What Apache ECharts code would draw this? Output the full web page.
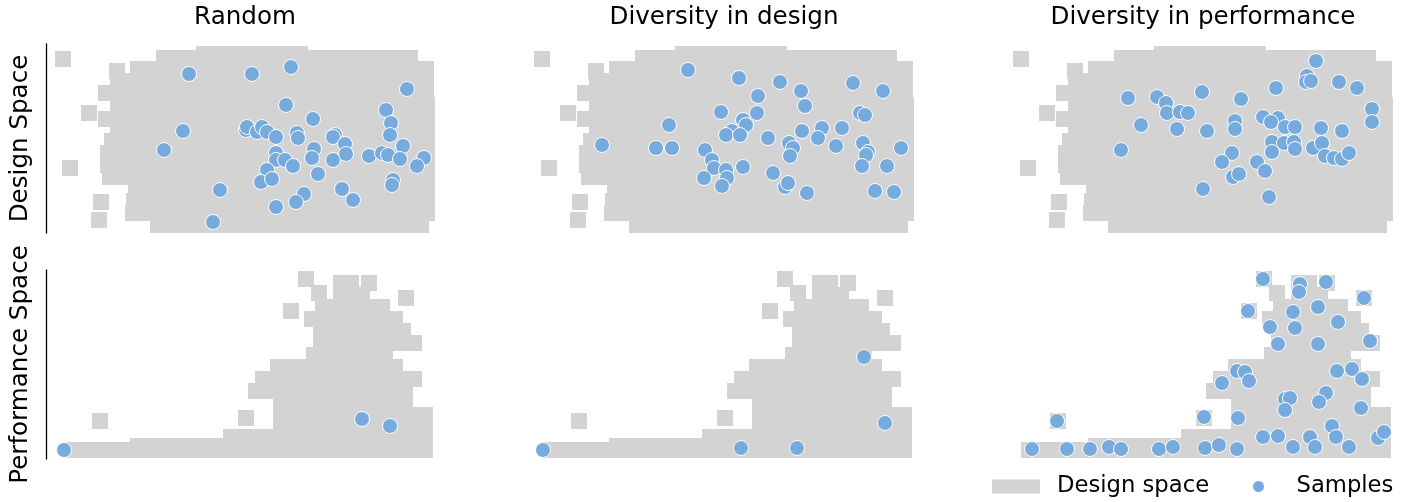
<!DOCTYPE html>
<html><head><meta charset="utf-8">
<script src="https://cdn.jsdelivr.net/npm/echarts@6/dist/echarts.min.js"></script>
<style>html,body{margin:0;padding:0;background:#fff}#c{width:1411px;height:502px}</style>
</head><body><div id="c"></div>
<script>
// ---- labels ----
const columnTitles = ['Random', 'Diversity in design', 'Diversity in performance'];
const rowTitles = ['Design Space', 'Performance Space'];
const legendNames = ['Design space', 'Samples'];

// ---- gray design-space cloud (rows of points: [y, [x...]]) ----
const designSpaceRows = [
  [179, [158,170,182,194,206,218,230,242,254]],
  [175, [118,130,142,154,166,178,190,202,214,226,238,250,262,274,286,298,310,322,334,346,358,364]],
  [164, [92,104,116,128,140,152,164,176,188,200,212,224,236,248,260,272,284,296,308,320,332,344,356,368,380]],
  [152, [72,84,96,108,120,132,144,156,168,180,192,204,216,228,240,252,264,276,288,300,312,324,336,348,360,372,380]],
  [140, [60,72,84,96,108,120,132,144,156,168,180,192,204,216,228,240,252,264,276,288,300,312,324,336,348,360,372,380]],
  [128, [72,84,96,108,120,132,144,156,168,180,192,204,216,228,240,252,264,276,288,300,312,324,336,348,360,372,381]],
  [116, [72,84,96,108,120,132,144,156,168,180,192,204,216,228,240,252,264,276,288,300,312,324,336,348,360,372,381]],
  [104, [72,84,96,108,120,132,144,156,168,180,192,204,216,228,240,252,264,276,288,300,312,324,336,348,360,372,381]],
  [92,  [66,72,84,96,108,120,132,144,156,168,180,192,204,216,228,240,252,264,276,288,300,312,324,336,348,360,372,381]],
  [80,  [62,72,84,96,108,120,132,144,156,168,180,192,204,216,228,240,252,264,276,288,300,312,324,336,348,360,372,381]],
  [68,  [62,72,84,96,108,120,132,144,156,168,180,192,204,216,228,240,252,264,276,288,300,312,324,336,348,360,372,381]],
  [56,  [64,72,84,96,108,120,132,144,156,168,180,192,204,216,228,240,252,264,276,288,300,312,324,336,348,360,372,381]],
  [44,  [90,96,108,120,132,144,156,168,180,192,204,216,228,240,252,264,276,288,300,312,324,336,348,360,372,381]],
  [32,  [88,96,108,120,132,144,156,168,180,192,204,216,228,240,252,264,276,288,300,312,324,336,348,360,372,381]],
  [20,  [87,96,108,120,132,144,156,168,180,192,204,216,228,240,252,264,276,288,300,312,324,336,348,360,372,381]],
  [8,   [112,120,132,144,156,168,180,192,204,216,228,240,252,264,276,288,300,312,324,336,348,360,372,375]]
];
const designSpaceOutliers = [[17,174],[71,162],[43,120],[60,114],[24,65],[55,31],[53,13]];

// ---- gray performance-space cloud ----
const performanceSpaceRows = [
  [9,   [25,37,49,61,73,85,97,109,121,133,145,157,169,181,193,205,217,229,241,253,265,277,289,301,313,325,337,349,361,373,379]],
  [13,  [92,104,116,128,140,152,164,176]],
  [22,  [185,197,209,221,233,245,257,269,281,293,305,317,329,341,353,365,377,379]],
  [34,  [235,247,259,271,283,295,307,319,331,343,355,367,379]],
  [44,  [235,247,259,271,283,295,307,319,331,343,355,367,379]],
  [56,  [235,247,259,271,283,295,307,319,331,343,355,359]],
  [68,  [210,222,234,246,258,270,282,294,306,318,330,342,354,359]],
  [80,  [217,229,241,253,265,277,289,301,313,325,337,349,361,368]],
  [92,  [232,244,256,268,280,292,304,316,328,340,349]],
  [104, [268,280,292,304,316,328,339]],
  [116, [275,287,299,311,323,335,347,359,368]],
  [128, [275,287,299,311,323,335,347,357]],
  [140, [266,278,290,302,314,326,338,349]],
  [152, [277,289,301,313,325,336]],
  [164, [295,307,316]],
  [176, [295,305,323]]
];
const performanceSpaceOutliers = [[54,38],[200,41],[245,148],[273,166],[360,161],[260,180]];

// ---- samples (blue) ----
const randomDesign = [[143,159],[206,159],[245,166],[361,144],[240,128],[340,123],[267,114],[345,110],[137,102],
  [200,103],[201,106],[211,101],[216,106],[221,101],[118,83],[230,96],[251,100],[252,95],[289,98],[287,96],[299,89],
  [344,98],[357,87],[268,84],[266,75],[230,80],[230,73],[239,73],[247,67],[287,73],[300,79],[323,77],[336,80],[342,78],
  [354,74],[378,75],[371,67],[221,63],[215,51],[226,54],[272,59],[174,43],[347,53],[346,48],[296,44],[307,33],[258,39],
  [250,31],[230,26],[167,11]];
const randomPerformance = [[18,9],[316,40],[344,33]];

const diverseDesignDesign = [[163,163],[214,155],[255,151],[328,150],[233,137],[276,142],[358,142],[280,127],[196,121],
  [232,120],[335,120],[340,118],[218,113],[221,108],[144,108],[207,102],[201,98],[215,98],[297,105],[317,105],[277,102],
  [243,95],[293,95],[77,88],[131,85],[147,85],[180,83],[264,90],[268,85],[265,77],[311,87],[338,90],[343,81],[341,78],
  [376,85],[187,73],[189,65],[201,63],[202,55],[218,66],[337,67],[362,67],[179,55],[197,47],[248,60],[260,46],[263,50],
  [282,40],[350,42],[369,41]];
const diverseDesignPerformance = [[18,9],[216,11],[272,11],[339,102],[360,36]];

const diversePerfDesign = [[312,172],[303,157],[302,151],[307,152],[335,151],[353,145],[272,145],[198,141],[237,134],
  [124,135],[153,136],[162,130],[163,120],[176,121],[184,120],[368,124],[368,111],[231,112],[231,104],[259,116],[274,115],
  [267,111],[281,106],[291,106],[317,105],[338,102],[137,108],[173,104],[203,102],[268,91],[268,81],[280,90],[290,91],
  [291,84],[309,85],[318,90],[321,77],[330,75],[338,74],[345,80],[117,83],[228,80],[218,71],[253,71],[261,62],[229,56],
  [235,59],[199,44],[265,36]];
const diversePerfPerformance = [[259,180],[296,175],[295,167],[322,177],[360,161],[244,148],[314,152],[289,147],[334,137],
  [266,132],[291,131],[366,118],[274,115],[314,115],[233,88],[241,87],[245,78],[218,76],[333,88],[348,90],[358,80],
  [281,60],[286,61],[281,49],[322,66],[315,57],[357,51],[53,38],[200,42],[234,41],[328,33],[332,22],[259,22],[274,23],
  [306,22],[311,12],[289,12],[345,12],[374,21],[380,27],[28,10],[63,10],[86,10],[105,12],[117,10],[155,10],[169,12],
  [201,11],[215,14],[233,10]];

// ---- build ----
const rowsToPoints = rows => rows.flatMap(([y, xs]) => xs.map(x => [x, y]));
const grayDesign = rowsToPoints(designSpaceRows).concat(designSpaceOutliers);
const grayPerformance = rowsToPoints(performanceSpaceRows).concat(performanceSpaceOutliers);
const samples = [
  [randomDesign, diverseDesignDesign, diversePerfDesign],
  [randomPerformance, diverseDesignPerformance, diversePerfPerformance]
];
const grays = [grayDesign, grayPerformance];

const FONT = 'DejaVu Sans';
const GRAY = '#D3D3D3', BLUE = '#77AADD';
const X_MAX = 398, Y_MAX = 189;
const grid = [], xAxis = [], yAxis = [], series = [];
for (let r = 0; r < 2; r++) {
  for (let c = 0; c < 3; c++) {
    const i = r * 3 + c;
    grid.push({ left: 46 + 479 * c, top: r === 0 ? 44 : 270, width: X_MAX, height: Y_MAX });
    xAxis.push({ gridIndex: i, type: 'value', min: 0, max: X_MAX, show: false });
    yAxis.push({ gridIndex: i, type: 'value', min: 0, max: Y_MAX, show: c === 0,
      axisLine: { show: true, onZero: false, lineStyle: { color: '#000', width: 1.3 } },
      axisTick: { show: false }, axisLabel: { show: false }, splitLine: { show: false } });
    series.push({ name: legendNames[0], type: 'scatter', xAxisIndex: i, yAxisIndex: i,
      data: grays[r], symbol: 'rect', symbolSize: 16, silent: true, z: 1,
      itemStyle: { color: GRAY, opacity: 1 } });
    series.push({ name: legendNames[1], type: 'scatter', xAxisIndex: i, yAxisIndex: i,
      data: samples[r][c], symbol: 'circle', symbolSize: 15, silent: true, z: 2,
      itemStyle: { color: BLUE, borderColor: '#fff', borderWidth: 1, opacity: 1 } });
  }
}
const graphic = [];
columnTitles.forEach((t, c) => graphic.push({ type: 'text', x: 245 + 479 * c, y: 18,
  style: { text: t, font: '24.6px "' + FONT + '"', fill: '#000', textAlign: 'center', textVerticalAlign: 'middle' } }));
const rowCenters = [138.5, 364.5];
rowTitles.forEach((t, r) => graphic.push({ type: 'text', x: 21, y: rowCenters[r], rotation: Math.PI / 2,
  style: { text: t, font: '24.6px "' + FONT + '"', fill: '#000', textAlign: 'center', textVerticalAlign: 'middle' } }));

const legendText = (pad) => ({ color: '#000', fontFamily: FONT, fontSize: 22.7,
  rich: { t: { padding: [0, 0, 0, pad], fontFamily: FONT, fontSize: 22.7, color: '#000' } } });
const chart = echarts.init(document.getElementById('c'), null, { renderer: 'canvas' });
chart.setOption({
  animation: false,
  backgroundColor: '#fff',
  grid, xAxis, yAxis, series, graphic,
  legend: [
    { data: [{ name: legendNames[0], icon: 'rect' }], left: 992, top: 475, padding: 0, itemWidth: 48, itemHeight: 14,
      selectedMode: false, formatter: n => '{t|' + n + '}', textStyle: legendText(12) },
    { data: [{ name: legendNames[1], icon: 'circle' }], left: 1251, top: 475, padding: 0, itemWidth: 48, itemHeight: 13,
      selectedMode: false, formatter: n => '{t|' + n + '}', textStyle: legendText(9) }
  ]
});
</script></body></html>
